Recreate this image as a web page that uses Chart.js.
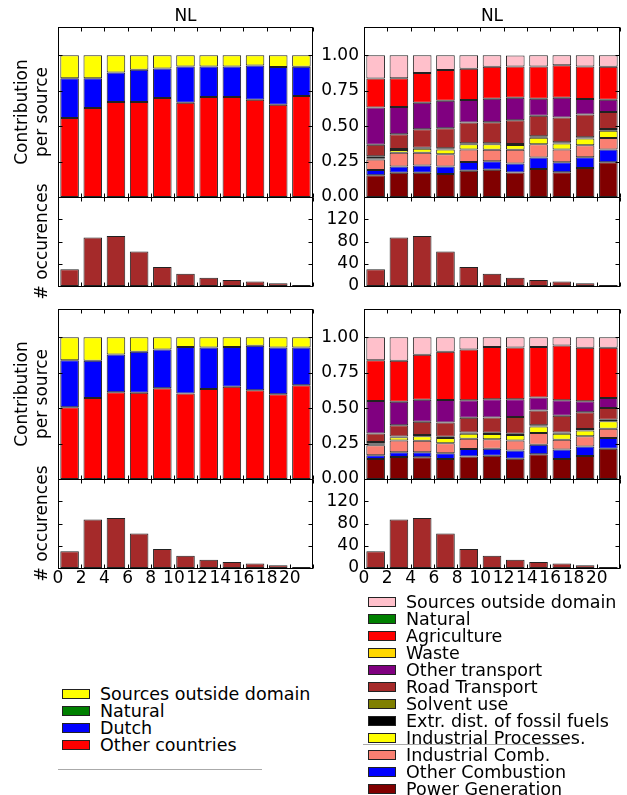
<!DOCTYPE html>
<html>
<head>
<meta charset="utf-8">
<script src="https://cdn.jsdelivr.net/npm/chart.js@4.4.0/dist/chart.umd.min.js"></script>
<style>
body{margin:0;background:#fff;overflow:hidden;font-family:"DejaVu Sans";}
#page{position:relative;width:627px;height:795px;}
canvas{position:absolute;}
.legend{position:absolute;font-size:17.5px;color:#000;}
.row{height:17px;display:flex;align-items:center;white-space:nowrap;}
.box{width:26px;height:8px;border:1px solid #222;margin-right:10px;flex:none;}
.rule{position:absolute;height:1px;background:#aaa;}
</style>
</head>
<body>
<div id="page">
  <canvas id="tlStack" width="320" height="230" style="left:0;top:0"></canvas>
  <canvas id="tlHist" width="320" height="170" style="left:0;top:150px"></canvas>
  <canvas id="trStack" width="314" height="230" style="left:313px;top:0"></canvas>
  <canvas id="trHist" width="314" height="170" style="left:313px;top:150px"></canvas>
  <canvas id="blStack" width="320" height="230" style="left:0;top:280px"></canvas>
  <canvas id="blHist" width="320" height="170" style="left:0;top:430px"></canvas>
  <canvas id="brStack" width="314" height="230" style="left:313px;top:280px"></canvas>
  <canvas id="brHist" width="314" height="170" style="left:313px;top:430px"></canvas>
  <div class="legend" id="legLeft" style="left:62px;top:685px"></div>
  <div class="legend" id="legRight" style="left:368px;top:593px"></div>
  <div class="rule" style="left:58px;top:769px;width:204px"></div>
  <div class="rule" style="left:363px;top:744px;width:205px"></div>
</div>
<script>
// bins of the histogram (centres), axes ticks
const binCentres = [1, 3, 5, 7, 9, 11, 13, 15, 17, 19, 21];
const xTicks = [0, 2, 4, 6, 8, 10, 12, 14, 16, 18, 20, 22];
const xTickLabels = ['0', '2', '4', '6', '8', '10', '12', '14', '16', '18', '20', ''];
const fracTicks = [0, 0.25, 0.5, 0.75, 1];
const fracTickLabels = ['0.00', '0.25', '0.50', '0.75', '1.00'];
const countTicks = [0, 40, 80, 120];
const countTickLabels = ['0', '40', '80', '120'];

const occurrences = [30, 87, 90, 62, 34, 22, 15, 11, 8, 5, 2];

// origin split, bottom -> top
const originLabels = ['Other countries', 'Dutch', 'Natural', 'Sources outside domain'];
const originColours = ['#ff0000', '#0000ff', '#008000', '#ffff00'];

// sector split, bottom -> top
const sectorLabels = ['Power Generation', 'Other Combustion', 'Industrial Comb.', 'Industrial Processes.',
  'Extr. dist. of fossil fuels', 'Solvent use', 'Road Transport', 'Other transport', 'Waste',
  'Agriculture', 'Natural', 'Sources outside domain'];
const sectorColours = ['#800000', '#0000ff', '#fa8072', '#ffff00', '#000000', '#808000',
  '#a52a2a', '#800080', '#ffd700', '#ff0000', '#008000', '#ffc0cb'];

// upper row, origin
const countriesA = [0.558, 0.628, 0.671, 0.671, 0.699, 0.666, 0.706, 0.706, 0.687, 0.652, 0.713];
const dutchA     = [0.280, 0.210, 0.207, 0.227, 0.208, 0.255, 0.216, 0.216, 0.242, 0.266, 0.206];
const naturalOA  = [0, 0, 0, 0, 0, 0, 0, 0, 0, 0, 0];
const outsideOA  = [0.162, 0.162, 0.122, 0.102, 0.093, 0.079, 0.078, 0.078, 0.071, 0.082, 0.081];

// upper row, sectors
const powerGenA   = [0.153, 0.171, 0.171, 0.162, 0.186, 0.193, 0.173, 0.198, 0.174, 0.204, 0.246];
const otherCombA  = [0.037, 0.044, 0.051, 0.053, 0.061, 0.059, 0.064, 0.081, 0.072, 0.076, 0.090];
const indCombA    = [0.075, 0.098, 0.091, 0.086, 0.088, 0.082, 0.097, 0.094, 0.090, 0.086, 0.081];
const indProcA    = [0.004, 0.018, 0.027, 0.034, 0.037, 0.038, 0.033, 0.046, 0.042, 0.047, 0.050];
const extrA       = [0.004, 0.008, 0.008, 0.010, 0.008, 0.007, 0.007, 0.010, 0.009, 0.008, 0.013];
const solventA    = [0.015, 0, 0, 0, 0, 0, 0, 0, 0, 0, 0];
const roadA       = [0.081, 0.104, 0.130, 0.140, 0.146, 0.148, 0.167, 0.144, 0.174, 0.162, 0.120];
const otherTransA = [0.263, 0.193, 0.188, 0.195, 0.158, 0.167, 0.160, 0.121, 0.139, 0.109, 0.087];
const wasteA      = [0, 0, 0, 0, 0, 0, 0, 0, 0, 0, 0];
const agriA       = [0.204, 0.202, 0.209, 0.216, 0.222, 0.226, 0.220, 0.228, 0.230, 0.230, 0.233];
const naturalA    = [0, 0, 0, 0, 0, 0, 0, 0, 0, 0, 0];
const outsideA    = [0.164, 0.162, 0.125, 0.104, 0.094, 0.080, 0.078, 0.078, 0.070, 0.078, 0.080];

// lower row, origin
const countriesB = [0.506, 0.572, 0.612, 0.608, 0.641, 0.603, 0.636, 0.652, 0.626, 0.598, 0.662];
const dutchB     = [0.333, 0.263, 0.267, 0.291, 0.274, 0.328, 0.293, 0.279, 0.315, 0.331, 0.267];
const naturalOB  = [0, 0, 0, 0, 0, 0, 0, 0, 0, 0, 0];
const outsideOB  = [0.161, 0.165, 0.121, 0.101, 0.085, 0.069, 0.071, 0.069, 0.059, 0.071, 0.071];

// lower row, sectors
const powerGenB   = [0.142, 0.155, 0.154, 0.142, 0.158, 0.165, 0.143, 0.174, 0.141, 0.163, 0.213];
const otherCombB  = [0.025, 0.034, 0.035, 0.040, 0.053, 0.048, 0.058, 0.068, 0.067, 0.067, 0.076];
const indCombB    = [0.072, 0.083, 0.081, 0.071, 0.073, 0.068, 0.071, 0.083, 0.069, 0.071, 0.066];
const indProcB    = [0.006, 0.022, 0.031, 0.036, 0.036, 0.036, 0.038, 0.046, 0.042, 0.042, 0.052];
const extrB       = [0.004, 0.006, 0.009, 0.009, 0.009, 0.009, 0.009, 0.009, 0.010, 0.010, 0.011];
const solventB    = [0.012, 0, 0, 0, 0, 0, 0, 0, 0, 0, 0];
const roadB       = [0.060, 0.079, 0.094, 0.100, 0.104, 0.109, 0.118, 0.104, 0.118, 0.118, 0.083];
const otherTransB = [0.230, 0.167, 0.156, 0.159, 0.123, 0.128, 0.126, 0.092, 0.109, 0.078, 0.071];
const wasteB      = [0, 0, 0, 0, 0, 0, 0, 0, 0, 0, 0];
const agriB       = [0.287, 0.289, 0.317, 0.341, 0.359, 0.368, 0.366, 0.355, 0.386, 0.378, 0.355];
const naturalB    = [0, 0, 0, 0, 0, 0, 0, 0, 0, 0, 0];
const outsideB    = [0.162, 0.165, 0.123, 0.102, 0.085, 0.069, 0.071, 0.069, 0.058, 0.073, 0.073];

Chart.defaults.font.family = 'DejaVu Sans';
Chart.defaults.font.size = 17;
Chart.defaults.color = '#000';

// matplotlib-like box with inward ticks
const frameTicks = {
  id: 'frameTicks',
  afterDatasetsDraw(chart) {
    const {ctx, chartArea: a, scales: {x, y}} = chart;
    const L = Math.round(a.left) + 0.5, R = Math.round(a.right) - 0.5;
    const T = Math.round(a.top) + 0.5, B = Math.round(a.bottom) + 0.5;
    ctx.save();
    ctx.strokeStyle = '#000';
    ctx.lineWidth = 1;
    ctx.beginPath();
    x.ticks.forEach(t => {
      const px = Math.round(x.getPixelForValue(t.value)) + 0.5;
      ctx.moveTo(px, T); ctx.lineTo(px, T + 4);
      ctx.moveTo(px, B); ctx.lineTo(px, B - 4);
    });
    y.ticks.forEach(t => {
      const py = Math.round(y.getPixelForValue(t.value)) + 0.5;
      ctx.moveTo(L, py); ctx.lineTo(L + 4, py);
      ctx.moveTo(R, py); ctx.lineTo(R - 4, py);
    });
    ctx.stroke();
    ctx.strokeRect(L, T, R - L, B - T);
    ctx.restore();
  }
};

function bars(values, colour, label) {
  return {
    label: label,
    data: binCentres.map((c, i) => ({x: c, y: values[i]})),
    backgroundColor: colour,
    borderColor: '#222',
    borderWidth: 1,
    borderSkipped: false,
    barPercentage: 0.8,
    categoryPercentage: 1.0
  };
}

function makeChart(id, cfg) {
  new Chart(document.getElementById(id), {
    type: 'bar',
    data: {datasets: cfg.datasets},
    options: {
      responsive: false,
      animation: false,
      layout: {padding: {left: 0, right: 7, top: cfg.padTop, bottom: cfg.padBottom}},
      plugins: {
        legend: {display: false},
        tooltip: {enabled: false},
        title: {
          display: !!cfg.title,
          text: cfg.title,
          fullSize: false,
          color: '#000',
          font: {size: 17, weight: 'normal', lineHeight: 1.2},
          padding: {top: 6, bottom: 0.6}
        }
      },
      scales: {
        x: {
          type: 'linear', min: 0, max: 22, stacked: true, offset: false,
          grid: {display: false, drawTicks: false}, border: {display: false},
          afterBuildTicks: s => { s.ticks = xTicks.map(v => ({value: v})); },
          ticks: {display: !!cfg.xLabels, padding: 0, autoSkip: false, maxRotation: 0, minRotation: 0,
            callback: (v, i) => xTickLabels[i]},
          afterFit: s => { s.height = cfg.xLabels ? 22 : 0; }
        },
        y: {
          min: 0, max: cfg.yMax, stacked: true,
          grid: {display: false, drawTicks: false}, border: {display: false},
          afterBuildTicks: s => { s.ticks = cfg.yTicks.map(v => ({value: v})); },
          ticks: {display: !!cfg.yLabels, padding: 5, callback: (v, i) => cfg.yTickLabels[i]},
          title: {
            display: !!cfg.yTitle,
            text: cfg.yTitle,
            color: '#000',
            font: {size: 17, lineHeight: 1.2},
            padding: {top: cfg.yTitlePad || 0, bottom: 0}
          },
          afterFit: s => { s.width = cfg.axisWidth; }
        }
      }
    },
    plugins: [frameTicks]
  });
}

const originA = [countriesA, dutchA, naturalOA, outsideOA];
const originB = [countriesB, dutchB, naturalOB, outsideOB];
const sectorA = [powerGenA, otherCombA, indCombA, indProcA, extrA, solventA, roadA, otherTransA, wasteA, agriA, naturalA, outsideA];
const sectorB = [powerGenB, otherCombB, indCombB, indProcB, extrB, solventB, roadB, otherTransB, wasteB, agriB, naturalB, outsideB];

const histSet = () => [bars(occurrences, '#a52a2a', '# occurences')];

// upper left
makeChart('tlStack', {
  datasets: originA.map((v, i) => bars(v, originColours[i], originLabels[i])),
  title: 'NL', padTop: 0, padBottom: 33, axisWidth: 58, yMax: 1.2,
  yTicks: fracTicks, yTickLabels: fracTickLabels, yLabels: false,
  yTitle: ['Contribution', 'per source'], yTitlePad: 12
});
makeChart('tlHist', {
  datasets: histSet(), padTop: 47, padBottom: 34, axisWidth: 58, yMax: 160,
  yTicks: countTicks, yTickLabels: countTickLabels, yLabels: false,
  yTitle: '# occurences', yTitlePad: 32
});
// upper right
makeChart('trStack', {
  datasets: sectorA.map((v, i) => bars(v, sectorColours[i], sectorLabels[i])),
  title: 'NL', padTop: 0, padBottom: 33, axisWidth: 51, yMax: 1.2,
  yTicks: fracTicks, yTickLabels: fracTickLabels, yLabels: true
});
makeChart('trHist', {
  datasets: histSet(), padTop: 47, padBottom: 34, axisWidth: 51, yMax: 160,
  yTicks: countTicks, yTickLabels: countTickLabels, yLabels: true
});
// lower left
makeChart('blStack', {
  datasets: originB.map((v, i) => bars(v, originColours[i], originLabels[i])),
  padTop: 29, padBottom: 31, axisWidth: 58, yMax: 1.2,
  yTicks: fracTicks, yTickLabels: fracTickLabels, yLabels: false,
  yTitle: ['Contribution', 'per source'], yTitlePad: 12
});
makeChart('blHist', {
  datasets: histSet(), padTop: 49, padBottom: 10, axisWidth: 58, yMax: 160, xLabels: true,
  yTicks: countTicks, yTickLabels: countTickLabels, yLabels: false,
  yTitle: '# occurences', yTitlePad: 32
});
// lower right
makeChart('brStack', {
  datasets: sectorB.map((v, i) => bars(v, sectorColours[i], sectorLabels[i])),
  padTop: 29, padBottom: 31, axisWidth: 51, yMax: 1.2,
  yTicks: fracTicks, yTickLabels: fracTickLabels, yLabels: true
});
makeChart('brHist', {
  datasets: histSet(), padTop: 49, padBottom: 10, axisWidth: 51, yMax: 160, xLabels: true,
  yTicks: countTicks, yTickLabels: countTickLabels, yLabels: true
});

// legends, listed top -> bottom like the stacks
function legend(id, labels, colours) {
  const el = document.getElementById(id);
  for (let i = labels.length - 1; i >= 0; i--) {
    const row = document.createElement('div');
    row.className = 'row';
    const box = document.createElement('span');
    box.className = 'box';
    box.style.background = colours[i];
    const txt = document.createElement('span');
    txt.textContent = labels[i];
    row.appendChild(box);
    row.appendChild(txt);
    el.appendChild(row);
  }
}
legend('legLeft', originLabels, originColours);
legend('legRight', sectorLabels, sectorColours);
</script>
</body>
</html>
